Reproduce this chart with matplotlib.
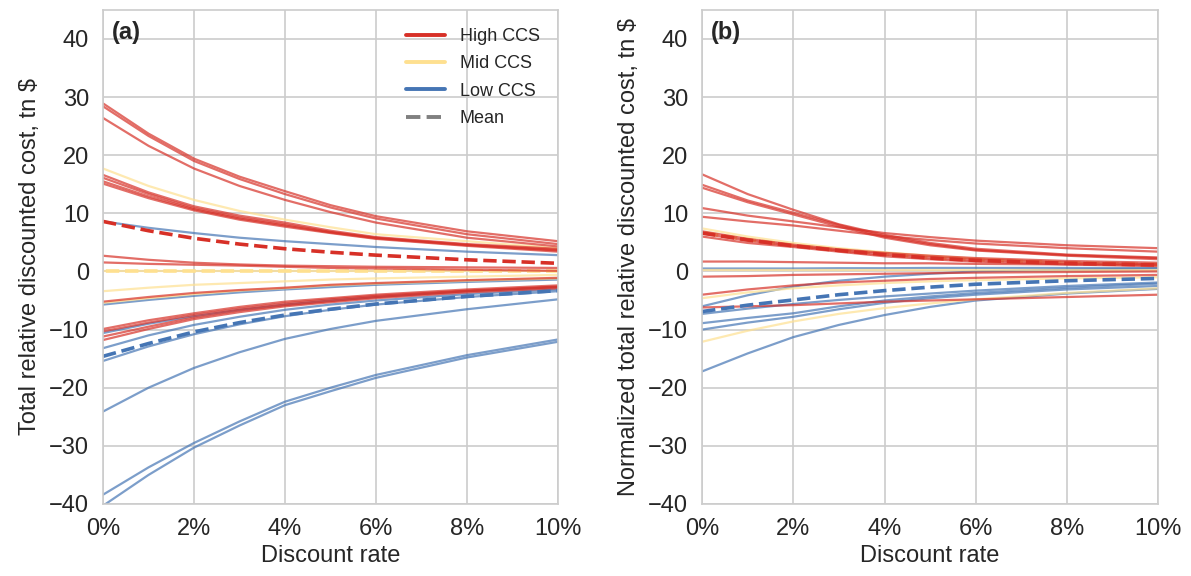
import matplotlib
matplotlib.use("Agg")
import matplotlib.pyplot as plt
import seaborn as sns
from matplotlib.lines import Line2D
from matplotlib.ticker import FuncFormatter

sns.set_theme(style="whitegrid")
plt.rcParams["font.family"] = ["Liberation Sans", "DejaVu Sans"]

# Discount rates (%) at which each scenario's cost is given
rates = [0, 1, 2, 3, 4, 5, 6, 8, 10]

# ---- (a) total relative discounted cost, tn $ ----
high_a = [
    [28.9, 23.7, 19.4, 16.3, 13.8, 11.4, 9.5, 6.9, 5.2],
    [28.4, 23.3, 19.0, 15.9, 13.3, 11.0, 9.1, 6.4, 4.7],
    [26.4, 21.6, 17.7, 14.7, 12.3, 10.2, 8.4, 5.8, 4.3],
    [16.6, 13.6, 11.2, 9.6, 8.4, 7.0, 5.9, 4.7, 3.9],
    [16.1, 13.3, 10.9, 9.3, 8.1, 6.8, 5.8, 4.6, 3.7],
    [15.5, 12.9, 10.7, 9.1, 7.9, 6.7, 5.7, 4.5, 3.6],
    [15.1, 12.6, 10.5, 8.9, 7.7, 6.6, 5.6, 4.4, 3.4],
    [2.7, 2.0, 1.5, 1.2, 1.0, 0.9, 0.8, 0.7, 0.6],
    [1.55, 1.3, 1.15, 1.0, 0.8, 0.6, 0.5, 0.3, 0.1],
    [-5.2, -4.4, -3.7, -3.2, -2.8, -2.3, -2.0, -1.5, -1.1],
    [-9.9, -8.4, -7.2, -6.1, -5.2, -4.6, -4.0, -3.1, -2.4],
    [-10.3, -8.8, -7.5, -6.4, -5.5, -4.8, -4.2, -3.3, -2.6],
    [-11.2, -9.5, -7.9, -6.7, -5.8, -5.1, -4.4, -3.4, -2.7],
    [-11.8, -9.9, -8.2, -7.0, -6.0, -5.3, -4.6, -3.6, -2.9],
]
mid_a = [
    [17.7, 14.7, 12.3, 10.4, 8.9, 7.6, 6.4, 5.2, 4.0],
    [0.1, 0.1, 0.1, 0.1, 0.1, 0.1, 0.1, 0.1, 0.1],
    [-3.4, -2.8, -2.3, -2.0, -1.7, -1.4, -1.2, -0.9, -0.6],
    [-5.4, -4.6, -3.9, -3.3, -2.9, -2.4, -2.1, -1.6, -1.2],
]
low_a = [
    [8.6, 7.5, 6.6, 5.8, 5.2, 4.7, 4.2, 3.4, 2.8],
    [-5.7, -4.9, -4.2, -3.6, -3.1, -2.7, -2.3, -1.8, -1.4],
    [-10.6, -9.0, -7.7, -6.6, -5.7, -5.0, -4.4, -3.4, -2.7],
    [-13.2, -11.0, -9.2, -7.8, -6.6, -5.7, -5.0, -3.9, -3.1],
    [-15.4, -12.9, -10.8, -9.1, -7.7, -6.6, -5.7, -4.4, -3.4],
    [-24.1, -20.0, -16.6, -13.9, -11.6, -9.9, -8.5, -6.5, -4.8],
    [-38.4, -33.7, -29.5, -25.8, -22.4, -20.0, -17.8, -14.4, -11.7],
    [-40.3, -35.0, -30.3, -26.5, -23.0, -20.6, -18.3, -14.8, -12.1],
]
high_mean_a = [8.6, 7.0, 5.7, 4.7, 3.9, 3.3, 2.8, 2.0, 1.4]
mid_mean_a = [0.1, 0.1, 0.1, 0.1, 0.1, 0.1, 0.1, 0.1, 0.1]
low_mean_a = [-14.6, -12.4, -10.4, -8.8, -7.5, -6.5, -5.6, -4.3, -3.3]

# ---- (b) normalized total relative discounted cost, tn $ ----
high_b = [
    [16.7, 13.3, 10.6, 8.1, 6.3, 4.9, 3.9, 2.9, 2.4],
    [14.9, 12.2, 10.1, 8.0, 6.0, 4.7, 3.7, 2.8, 2.3],
    [14.4, 11.9, 9.8, 7.7, 5.8, 4.5, 3.6, 2.7, 2.1],
    [10.9, 9.6, 8.6, 7.6, 6.6, 5.9, 5.3, 4.5, 4.0],
    [9.4, 8.6, 7.9, 7.0, 6.1, 5.4, 4.8, 4.0, 3.4],
    [6.9, 5.6, 4.6, 3.8, 3.2, 2.7, 2.3, 1.8, 1.5],
    [6.5, 5.3, 4.4, 3.6, 2.9, 2.4, 2.0, 1.5, 1.2],
    [6.0, 4.9, 4.2, 3.4, 2.6, 2.1, 1.7, 1.2, 0.9],
    [1.7, 1.7, 1.6, 1.5, 1.4, 1.4, 1.3, 1.2, 1.2],
    [-0.9, -0.8, -0.6, -0.5, -0.4, -0.3, -0.2, -0.1, 0.0],
    [-4.0, -3.1, -2.4, -1.9, -1.6, -1.3, -1.1, -0.8, -0.6],
    [-6.2, -6.0, -5.8, -5.5, -5.2, -5.0, -4.8, -4.4, -4.0],
]
mid_b = [
    [7.4, 6.0, 4.9, 4.0, 3.3, 2.7, 2.2, 1.5, 1.0],
    [0.2, 0.2, 0.2, 0.2, 0.2, 0.2, 0.2, 0.2, 0.2],
    [-4.6, -3.6, -2.9, -2.4, -2.0, -1.7, -1.5, -1.2, -1.0],
    [-12.1, -10.2, -8.6, -7.3, -6.3, -5.5, -4.8, -3.7, -2.9],
]
low_b = [
    [0.5, 0.5, 0.5, 0.55, 0.55, 0.6, 0.6, 0.6, 0.6],
    [-6.0, -4.1, -2.6, -1.6, -0.9, -0.4, 0.0, 0.3, 0.5],
    [-7.3, -6.4, -5.6, -4.9, -4.3, -3.8, -3.3, -2.5, -1.9],
    [-8.9, -8.0, -7.2, -6.0, -5.0, -4.3, -3.7, -2.8, -2.1],
    [-10.0, -8.8, -7.8, -6.5, -5.4, -4.6, -4.0, -3.1, -2.5],
    [-17.2, -14.1, -11.3, -9.2, -7.5, -6.1, -5.0, -3.8, -3.0],
]
high_mean_b = [6.6, 5.4, 4.4, 3.6, 2.9, 2.3, 1.9, 1.4, 1.1]
mid_mean_b = [6.7, 5.5, 4.5, 3.7, 3.0, 2.4, 2.0, 1.5, 1.2]
low_mean_b = [-6.9, -5.8, -4.9, -4.0, -3.3, -2.7, -2.2, -1.6, -1.2]

RED = "#d73027"
YELLOW = "#fee090"
BLUE = "#4575b4"

panels = [
    dict(high=high_a, mid=mid_a, low=low_a,
         mid_mean=mid_mean_a, high_mean=high_mean_a, low_mean=low_mean_a,
         label="(a)", ylabel="Total relative discounted cost, tn $"),
    dict(high=high_b, mid=mid_b, low=low_b,
         mid_mean=mid_mean_b, high_mean=high_mean_b, low_mean=low_mean_b,
         label="(b)", ylabel="Normalized total relative discounted cost, tn $"),
]

FS = 17
DASH = (3.7, 1.6)

fig = plt.figure(figsize=(11.91, 5.76), dpi=100)
ax_pos = [[0.0865, 0.125, 0.382, 0.858], [0.5895, 0.125, 0.383, 0.858]]

for i, p in enumerate(panels):
    ax = fig.add_axes(ax_pos[i])
    # Mid-CCS mean goes underneath the individual runs
    ax.plot(rates, p["mid_mean"], color=YELLOW, lw=2.6,
            linestyle=(4.5, DASH))
    for series, color in ((p["low"], BLUE), (p["mid"], YELLOW), (p["high"], RED)):
        for vals in series:
            ax.plot(rates, vals, color=color, lw=1.6, alpha=0.7,
                    solid_joinstyle="round")
    ax.plot(rates, p["high_mean"], color=RED, lw=2.6, linestyle=(0, DASH))
    ax.plot(rates, p["low_mean"], color=BLUE, lw=2.6, linestyle=(0, DASH))

    ax.set_xlim(0, 10)
    ax.set_ylim(-40, 45)
    ax.set_xticks([0, 2, 4, 6, 8, 10])
    ax.set_yticks(range(-40, 41, 10))
    ax.xaxis.set_major_formatter(FuncFormatter(lambda v, _: f"{v:.0f}%"))
    ax.tick_params(labelsize=FS, pad=4, colors="#262626")
    ax.set_xlabel("Discount rate", fontsize=FS, labelpad=4, color="#262626")
    ax.set_ylabel(p["ylabel"], fontsize=FS, labelpad=6, color="#262626")
    ax.text(0.02, 0.978, p["label"], transform=ax.transAxes, ha="left",
            va="top", fontsize=FS, fontweight="bold", color="#262626")
    for s in ax.spines.values():
        s.set_color("#cccccc")
        s.set_linewidth(1.2)
    ax.grid(color="#cccccc", lw=1.2)

    if i == 0:
        handles = [
            Line2D([], [], color=RED, lw=2.8),
            Line2D([], [], color=YELLOW, lw=2.8),
            Line2D([], [], color=BLUE, lw=2.8),
            Line2D([], [], color="gray", lw=2.8, linestyle="--"),
        ]
        ax.legend(handles, ["High CCS", "Mid CCS", "Low CCS", "Mean"],
                  loc="upper right", frameon=False, fontsize=13,
                  handlelength=2.2, borderaxespad=0.6, labelspacing=0.58,
                  handletextpad=0.8)

fig.savefig("out.png", dpi=100)
